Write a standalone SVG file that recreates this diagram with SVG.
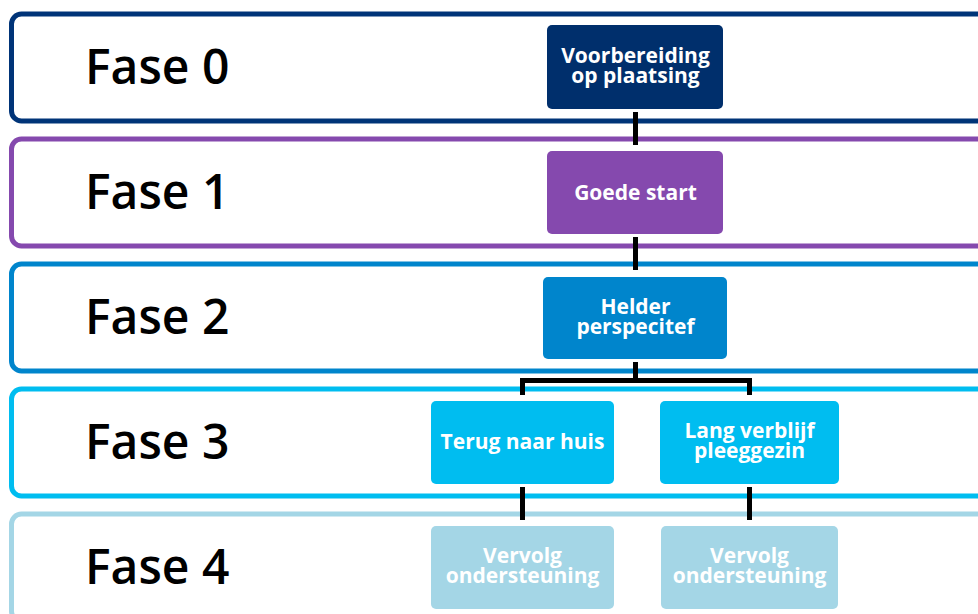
<svg xmlns="http://www.w3.org/2000/svg" width="978" height="614" viewBox="0 0 978 614">
<style>
.band{fill:#fff;stroke-width:5}
.lbl{font-family:"Open Sans","Noto Sans",sans-serif;font-weight:600;font-size:48px;fill:#000}
.nt{font-family:"Open Sans","Noto Sans",sans-serif;font-weight:bold;font-size:21px;fill:#fff;text-anchor:middle}
.con{stroke:#000;stroke-width:5;fill:none}
</style>
<rect x="0" y="0" width="978" height="614" fill="#fff"/>
<g id="bands">
<g id="fase0"><rect class="band" x="11.5" y="14" width="1000" height="107" rx="10" stroke="#003478"/><text class="lbl" x="85" y="84">Fase 0</text></g>
<g id="fase1"><rect class="band" x="11.5" y="139" width="1000" height="107" rx="10" stroke="#8549AE"/><text class="lbl" x="85" y="209">Fase 1</text></g>
<g id="fase2"><rect class="band" x="11.5" y="264" width="1000" height="107" rx="10" stroke="#0085CC"/><text class="lbl" x="85" y="334">Fase 2</text></g>
<g id="fase3"><rect class="band" x="11.5" y="389" width="1000" height="107" rx="10" stroke="#00BDF0"/><text class="lbl" x="85" y="459">Fase 3</text></g>
<g id="fase4"><rect class="band" x="11.5" y="514" width="1000" height="107" rx="10" stroke="#A4D6E6"/><text class="lbl" x="85" y="584">Fase 4</text></g>
</g>
<g id="connectors">
<line class="con" x1="635.5" y1="112" x2="635.5" y2="145"/>
<line class="con" x1="635.5" y1="237" x2="635.5" y2="270"/>
<path class="con" d="M635.5 362 V380.5 M522.5 395 V380.5 H749.5 V395"/>
<line class="con" x1="522.5" y1="487" x2="522.5" y2="520"/>
<line class="con" x1="749.5" y1="487" x2="749.5" y2="520"/>
</g>
<g id="n0"><rect x="547" y="25" width="176" height="84" rx="5" fill="#002F6C"/><text class="nt" x="635.5" y="63">Voorbereiding</text><text class="nt" x="635.5" y="83">op plaatsing</text></g>
<g id="n1"><rect x="547" y="151" width="176" height="83" rx="5" fill="#8549AE"/><text class="nt" x="635.5" y="200">Goede start</text></g>
<g id="n2"><rect x="543" y="277" width="184" height="82" rx="5" fill="#0085CC"/><text class="nt" x="635.5" y="314">Helder</text><text class="nt" x="635.5" y="334">perspecitef</text></g>
<g id="n3a"><rect x="431" y="401" width="183" height="83" rx="5" fill="#00BDF0"/><text class="nt" x="522.5" y="449">Terug naar huis</text></g>
<g id="n3b"><rect x="660" y="401" width="179" height="83" rx="5" fill="#00BDF0"/><text class="nt" x="749.5" y="438">Lang verblijf</text><text class="nt" x="749.5" y="458">pleeggezin</text></g>
<g id="n4a"><rect x="431" y="526" width="183" height="83" rx="5" fill="#A4D6E6"/><text class="nt" x="522.5" y="563">Vervolg</text><text class="nt" x="522.5" y="583">ondersteuning</text></g>
<g id="n4b"><rect x="661" y="526" width="177" height="83" rx="5" fill="#A4D6E6"/><text class="nt" x="749.5" y="563">Vervolg</text><text class="nt" x="749.5" y="583">ondersteuning</text></g>
</svg>
